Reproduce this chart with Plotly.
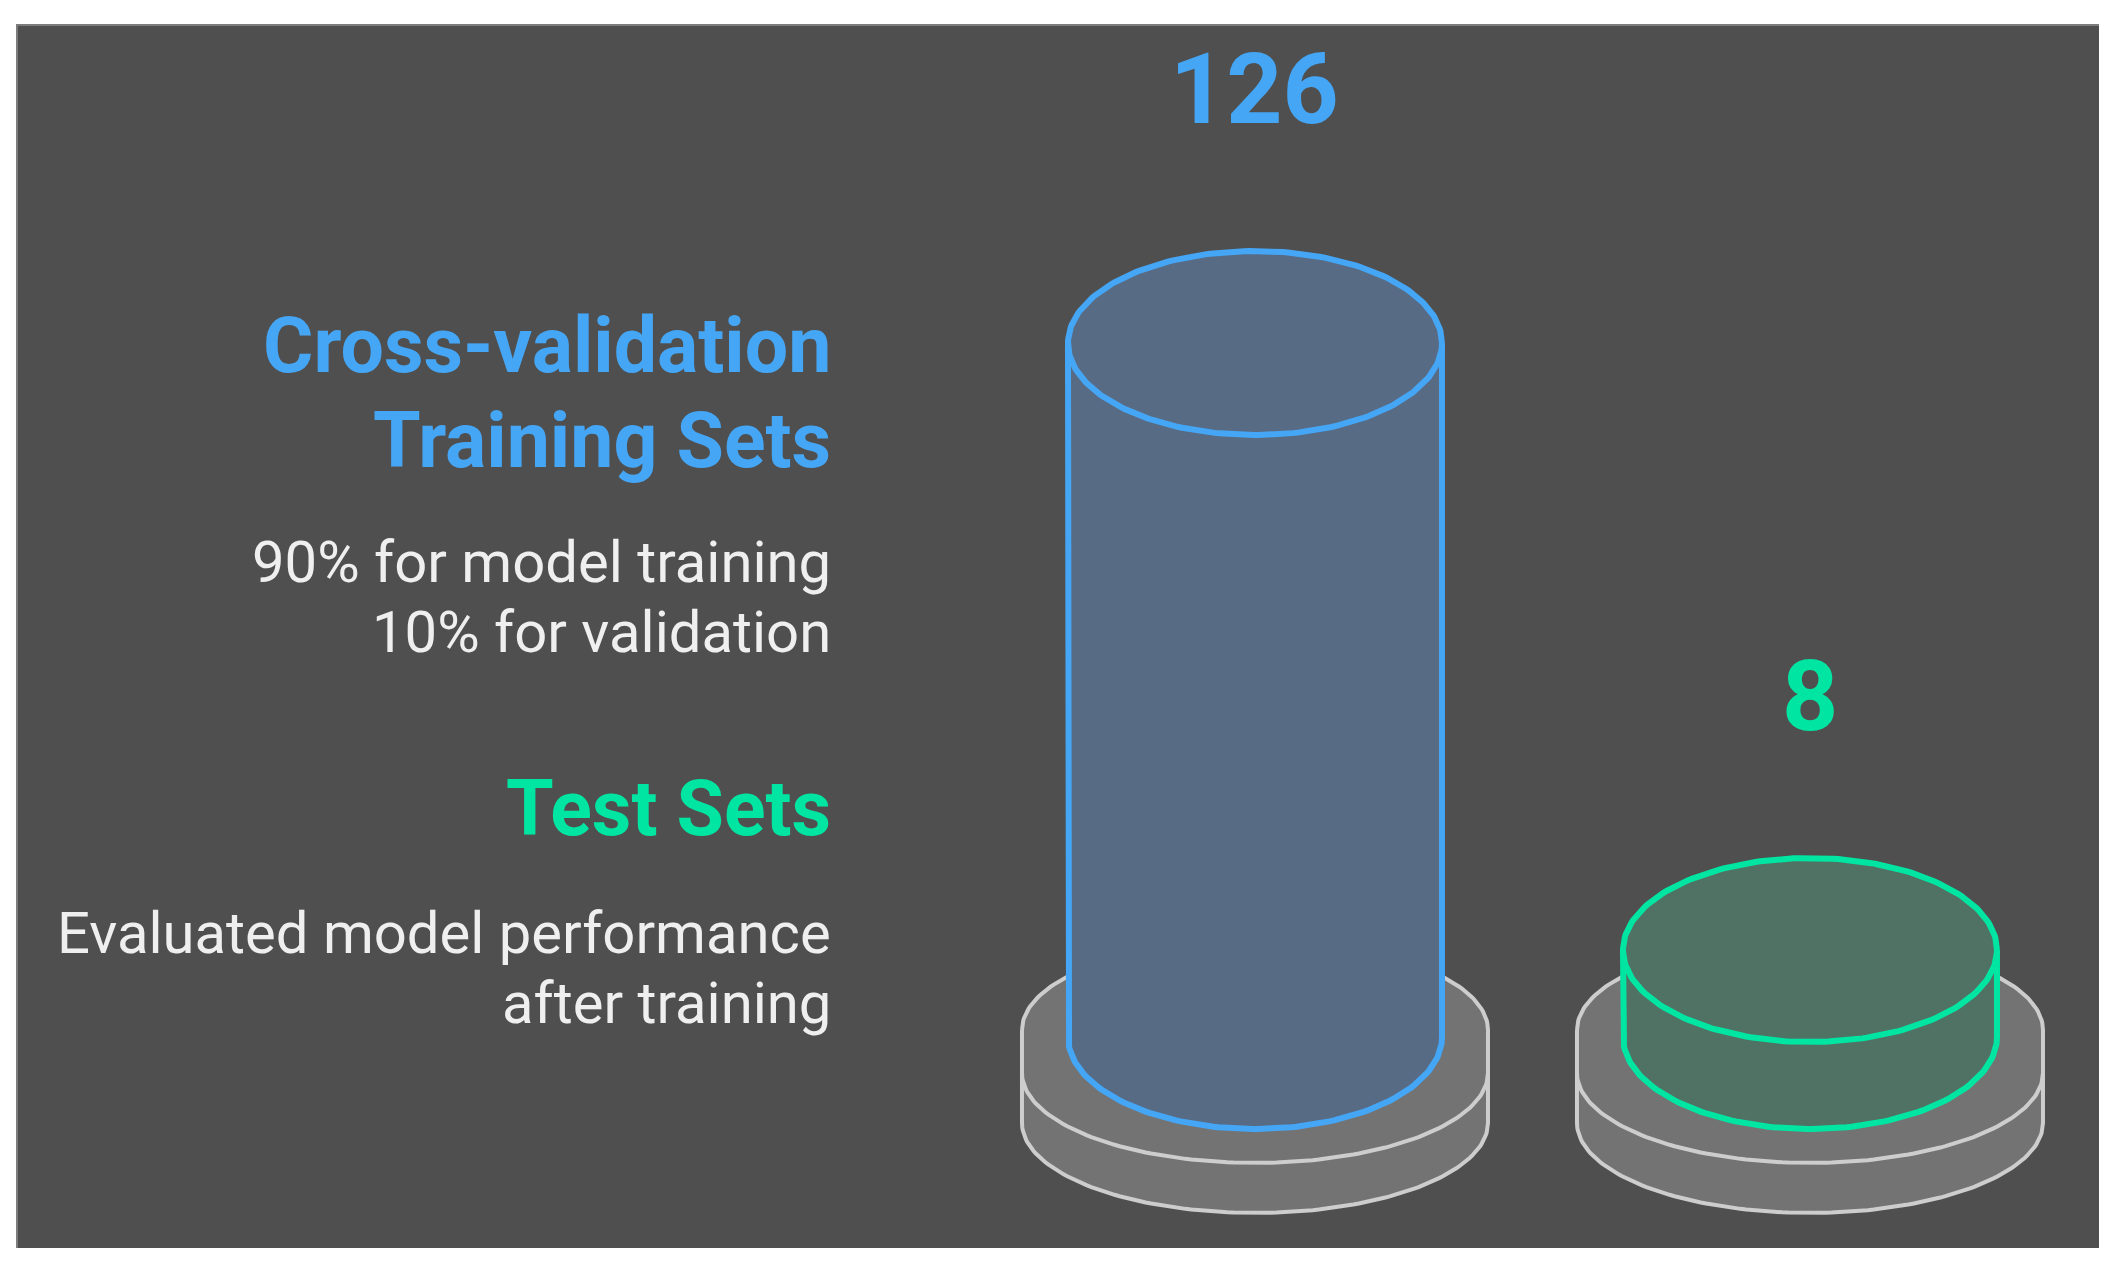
import numpy as np
import plotly.graph_objects as go

# ---- data ----
categories = ["Cross-validation Training Sets", "Test Sets"]
counts = [126, 8]
line_colors = ["#45a6f6", "#00e6a2"]
body_colors = ["#586b84", "#507264"]

# left-hand legend text: (text, colour index or None, bold)
blurb_lines = [
    ("Cross-validation", 0, True),
    ("Training Sets", 0, True),
    ("90% for model training", None, False),
    ("10% for validation", None, False),
    ("Test Sets", 1, True),
    ("Evaluated model performance", None, False),
    ("after training", None, False),
]

W, H = 2117, 1272
X_RANGE = [-2.2613, 1.5532]
Y_RANGE = [0.268, 2.777]   # log10 units, y axis is log
FLOOR = 5.39               # level the cylinders stand on

ux = (X_RANGE[1] - X_RANGE[0]) / W
uy = (Y_RANGE[1] - Y_RANGE[0]) / H


def ellipse(xc, yc_log, rx, ry, t):
    # rx, ry in pixels -> axis units
    return xc + rx * ux * np.cos(t), 10 ** (yc_log + ry * uy * np.sin(t))


fig = go.Figure()

base_log = np.log10(FLOOR)
for i, v in enumerate(counts):
    # ---- grey pedestal (two stacked discs) ----
    R, RY = 233, 90
    c1, c2, c3 = base_log + 7 * uy, base_log - 36 * uy, base_log - 86 * uy
    tt = np.linspace(np.pi, 0, 120)
    tb = np.linspace(0, -np.pi, 120)
    x1, y1 = ellipse(i, c1, R, RY, tt)
    x3, y3 = ellipse(i, c3, R, RY, tb)
    px = np.concatenate([x1, x3, x1[:1]])
    py = np.concatenate([y1, y3, y1[:1]])
    fig.add_trace(go.Scatter(x=px, y=py, mode="lines", fill="toself",
                             fillcolor="#737373", line=dict(width=4, color="#cdcdcd"),
                             hoverinfo="skip", showlegend=False))
    x2, y2 = ellipse(i, c2, R, RY, tb)
    fig.add_trace(go.Scatter(x=x2, y=y2, mode="lines",
                             line=dict(width=4, color="#cdcdcd"),
                             hoverinfo="skip", showlegend=False))

    # ---- cylinder ----
    r, ry = 187, 92
    top = np.log10(v)
    xt, yt = ellipse(i, top, r, ry, tt)
    xb, yb = ellipse(i, base_log, r, ry, tb)
    fig.add_trace(go.Scatter(x=np.concatenate([xt, xb, xt[:1]]),
                             y=np.concatenate([yt, yb, yt[:1]]),
                             mode="lines", fill="toself", fillcolor=body_colors[i],
                             line=dict(width=0, color=body_colors[i]),
                             hoverinfo="skip", showlegend=False))
    # outline: sides + front of bottom rim, then full top rim
    tl = np.linspace(np.pi, 2 * np.pi, 120)
    xl, yl = ellipse(i, base_log, r, ry, tl)
    tf = np.linspace(0, 2 * np.pi, 240)
    xf, yf = ellipse(i, top, r, ry, tf)
    ox = np.concatenate([[i - r * ux], xl, [i + r * ux], [None], xf])
    oy = np.concatenate([[10 ** top], yl, [10 ** top], [None], yf])
    fig.add_trace(go.Scatter(x=ox, y=oy, mode="lines", connectgaps=False,
                             line=dict(width=6, color=line_colors[i]),
                             hoverinfo="skip", showlegend=False, name=categories[i]))

    # value label
    fig.add_annotation(x=i, y=top, xref="x", yref="y", text=str(v), showarrow=False,
                       yanchor="middle", yshift=254,
                       font=dict(family="Roboto", size=98, color=line_colors[i], weight=700))

# ---- left-hand text ----
baselines = [372, 467, 582, 652, 835, 953, 1023]
for (txt, ci, bold), b in zip(blurb_lines, baselines):
    size = 77 if bold else 58
    color = line_colors[ci] if ci is not None else "#efefef"
    fig.add_annotation(x=833 / W, y=1 - (b - 0.342 * size) / H, xref="paper", yref="paper",
                       text=txt, showarrow=False, xanchor="right", yanchor="middle",
                       font=dict(family="Roboto", size=size, color=color,
                                 weight=700 if bold else 400))

# dark panel
fig.add_shape(type="rect", xref="paper", yref="paper",
              x0=16 / W, x1=2099 / W, y0=1 - 1248 / H, y1=1 - 24 / H,
              fillcolor="#4f4f4f", line=dict(width=0), layer="below")
fig.add_shape(type="line", xref="paper", yref="paper",
              x0=16 / W, x1=2099 / W, y0=1 - 25 / H, y1=1 - 25 / H,
              line=dict(width=2, color="#7c7c7c"), layer="below")
fig.add_shape(type="line", xref="paper", yref="paper",
              x0=17 / W, x1=17 / W, y0=1 - 1248 / H, y1=1 - 24 / H,
              line=dict(width=2, color="#7c7c7c"), layer="below")

fig.update_layout(
    width=W, height=H,
    margin=dict(l=0, r=0, t=0, b=0),
    paper_bgcolor="white",
    plot_bgcolor="rgba(0,0,0,0)",
    showlegend=False,
    xaxis=dict(range=X_RANGE, visible=False, fixedrange=True),
    yaxis=dict(type="log", range=Y_RANGE, visible=False, fixedrange=True),
)

fig.write_html("out.html", config={"displayModeBar": False},
               post_script="document.body.style.margin='0';")
